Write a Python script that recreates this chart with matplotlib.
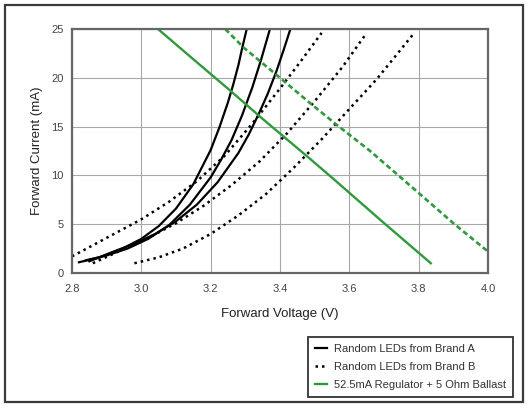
import matplotlib
matplotlib.use('Agg')
import matplotlib.pyplot as plt
from matplotlib.patches import Rectangle

plt.rcParams['font.family'] = ['Liberation Sans', 'DejaVu Sans']

# brand A LEDs (solid black), forward voltage V vs current mA
a1_v = [2.82, 2.88, 2.94, 3.00, 3.05, 3.10, 3.15, 3.20, 3.225, 3.25, 3.265, 3.28, 3.29, 3.304]
a1_i = [1.1, 1.6, 2.4, 3.5, 4.8, 6.6, 9.1, 12.6, 14.9, 17.5, 19.3, 21.3, 22.9, 25.0]
a2_v = [2.84, 2.90, 2.96, 3.02, 3.08, 3.14, 3.20, 3.23, 3.26, 3.29, 3.32, 3.345, 3.371]
a2_i = [1.3, 1.8, 2.5, 3.5, 4.9, 7.0, 9.8, 11.6, 13.6, 16.1, 19.0, 21.8, 25.0]
a3_v = [2.85, 2.92, 2.98, 3.04, 3.10, 3.16, 3.22, 3.28, 3.31, 3.34, 3.365, 3.39, 3.41, 3.43]
a3_i = [1.2, 2.2, 3.0, 4.0, 5.3, 7.0, 9.3, 12.3, 14.2, 16.4, 18.4, 20.7, 22.8, 25.0]

# brand B LEDs (dotted black)
b1_v = [2.80, 2.90, 3.00, 3.08, 3.16, 3.24, 3.32, 3.40, 3.46, 3.52]
b1_i = [1.7, 3.6, 5.5, 7.3, 9.4, 12.0, 15.3, 18.9, 21.7, 24.6]
b2_v = [2.86, 2.94, 3.02, 3.10, 3.18, 3.26, 3.34, 3.42, 3.50, 3.58, 3.65]
b2_i = [1.0, 2.3, 3.6, 5.1, 6.9, 9.0, 11.4, 14.3, 17.6, 21.1, 24.6]
b3_v = [2.98, 3.05, 3.12, 3.20, 3.28, 3.36, 3.44, 3.52, 3.60, 3.68, 3.785]
b3_i = [1.0, 1.6, 2.5, 4.0, 5.9, 8.1, 10.8, 13.7, 16.8, 19.9, 24.5]

# regulator + ballast load lines (green)
reg_v = [3.048, 3.15, 3.256, 3.343, 3.48, 3.549, 3.694, 3.835]
reg_i = [25.0, 21.9, 18.7, 16.0, 11.9, 9.8, 5.3, 1.0]
reg2_v = [3.242, 3.295, 3.40, 3.487, 3.563, 3.66, 3.80, 3.90, 4.0]
reg2_i = [25.0, 23.1, 20.0, 17.4, 15.2, 12.5, 8.2, 5.1, 2.2]

x_ticks = [2.8, 3.0, 3.2, 3.4, 3.6, 3.8, 4.0]
y_ticks = [0, 5, 10, 15, 20, 25]
labels = ['Random LEDs from Brand A', 'Random LEDs from Brand B',
          '52.5mA Regulator + 5 Ohm Ballast']

green = '#2f9a3c'
dotted = (0, (1.0, 1.6))

fig = plt.figure(figsize=(5.32, 4.11), dpi=100)
fig.patch.set_facecolor('white')
W, H = 532, 411

# outer frame around the whole picture
fig.patches.append(Rectangle((5 / W, 1 - 402 / H), 518 / W, 397 / H,
                             transform=fig.transFigure, fill=False,
                             edgecolor='#3a3a3a', linewidth=1.6))

ax = fig.add_axes([72 / W, 1 - 273 / H, 416 / W, 244 / H])

la, = ax.plot(a1_v, a1_i, color='black', lw=1.6)
ax.plot(a2_v, a2_i, color='black', lw=1.6)
ax.plot(a3_v, a3_i, color='black', lw=1.6)

lb, = ax.plot(b1_v, b1_i, color='black', lw=1.8, linestyle=dotted)
ax.plot(b2_v, b2_i, color='black', lw=1.8, linestyle=dotted)
ax.plot(b3_v, b3_i, color='black', lw=1.8, linestyle=dotted)

lg, = ax.plot(reg_v, reg_i, color=green, lw=1.7)
ax.plot(reg2_v, reg2_i, color=green, lw=1.9, linestyle=(0, (2.0, 1.2)))

ax.set_xlim(2.8, 4.0)
ax.set_ylim(0, 25)
ax.set_xticks(x_ticks)
ax.set_yticks(y_ticks)
ax.set_xticklabels([f'{t:.1f}' for t in x_ticks])
ax.tick_params(length=0, labelsize=8, colors='#444444')
ax.tick_params(axis='x', pad=8)
ax.tick_params(axis='y', pad=6)
ax.grid(True, color='#a8a8a8', lw=0.8)
ax.set_axisbelow(True)
for s in ax.spines.values():
    s.set_color('#666666')
    s.set_linewidth(1.6)

ax.set_xlabel('Forward Voltage (V)', fontsize=9.5, color='#222222', labelpad=10)
ax.set_ylabel('Forward Current (mA)', fontsize=9.5, color='#222222', labelpad=6)

leg = fig.legend([la, lb, lg], labels, loc='upper left',
                 bbox_to_anchor=(308 / W, 1 - 337 / H), borderaxespad=0,
                 fontsize=8.0, frameon=True, fancybox=False,
                 handlelength=1.15, handletextpad=0.6, labelspacing=0.73,
                 borderpad=0.6)
leg.get_frame().set_edgecolor('black')
leg.get_frame().set_linewidth(1.3)
for t in leg.get_texts():
    t.set_color('#333333')

fig.savefig('out.png', dpi=100)
